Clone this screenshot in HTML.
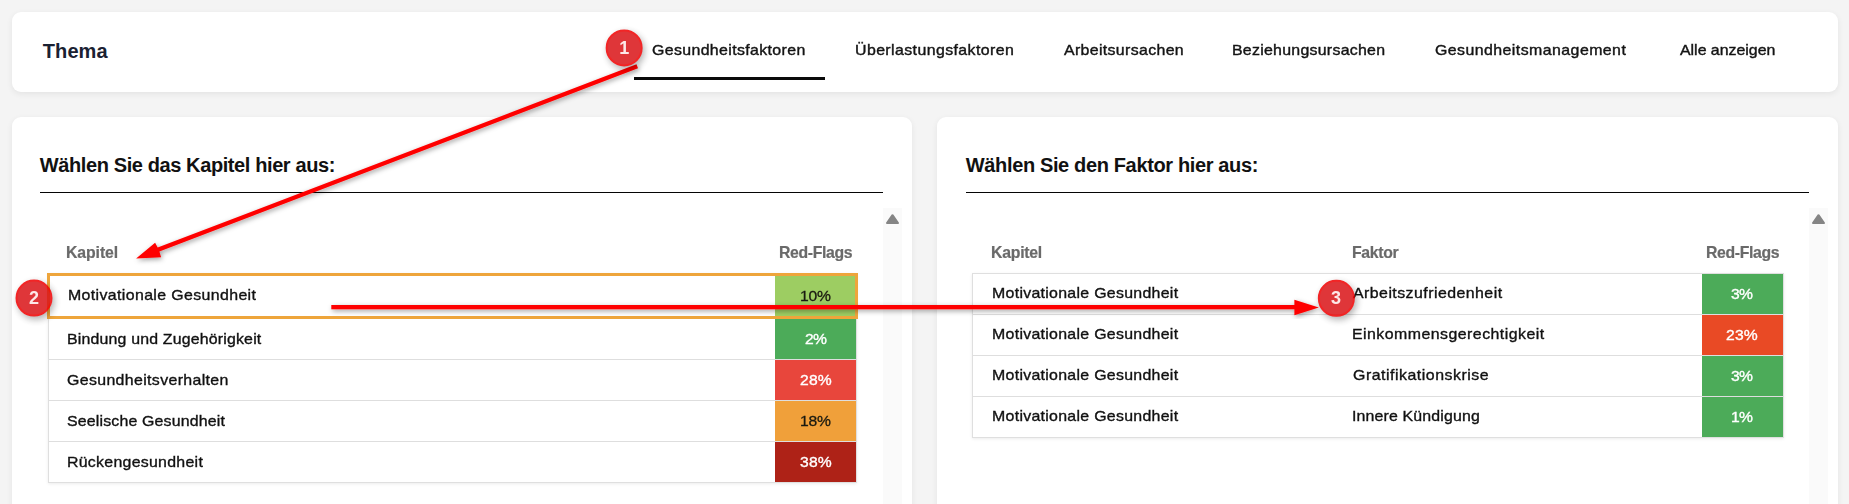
<!DOCTYPE html>
<html lang="de"><head><meta charset="utf-8"><title>Thema</title>
<style>
html,body{margin:0;padding:0}
body{width:1849px;height:504px;overflow:hidden;background:#f4f4f4;position:relative;font-family:"Liberation Sans", sans-serif}
.card{position:absolute;background:#fff;border-radius:9px;box-shadow:0 2px 6px rgba(0,0,0,.07)}
.t{position:absolute;white-space:nowrap;line-height:20px;display:inline-block;transform-origin:0 0}
.abs{position:absolute}
.hr{position:absolute;height:1px;background:#050505}
.trk{position:absolute;width:19px;background:#fafafa}
.tbl{position:absolute;border:1px solid #dfdfdf;box-sizing:border-box;background:#fff;box-shadow:0 1px 3px rgba(0,0,0,.08)}
.ln{position:absolute;height:1px;background:#dedede}
.cell{position:absolute}
.badge{position:absolute;width:37px;height:37px;border-radius:50%;box-sizing:border-box;background:#da1317;border:2px solid #f00001;opacity:.85;color:#fde4e4;font-weight:bold;font-size:18px;line-height:33px;text-align:center;box-shadow:2px 3px 7px rgba(0,0,0,.36)}
</style></head><body>
<div class="card" style="left:12px;top:12px;width:1826px;height:80px"></div>
<div class="card" style="left:12px;top:117px;width:900px;height:420px"></div>
<div class="card" style="left:937px;top:117px;width:901px;height:420px"></div>
<div class="abs" style="left:634px;top:77px;width:191px;height:3px;background:#0a0a0a"></div>
<div class="hr" style="left:40px;top:192px;width:843px"></div>
<div class="hr" style="left:966px;top:192px;width:843px"></div>
<div class="trk" style="left:883px;top:208px;height:296px"></div>
<div class="trk" style="left:1809px;top:208px;height:296px"></div>
<svg class="abs" style="left:885px;top:212.6px" width="15" height="13" viewBox="0 0 15 13"><path d="M7.5 2.2 L13 10 L2 10 Z" fill="#858585" stroke="#858585" stroke-width="2" stroke-linejoin="round"/></svg>
<svg class="abs" style="left:1811px;top:212.6px" width="15" height="13" viewBox="0 0 15 13"><path d="M7.5 2.2 L13 10 L2 10 Z" fill="#858585" stroke="#858585" stroke-width="2" stroke-linejoin="round"/></svg>

<!-- left table -->
<div class="tbl" style="left:48px;top:273px;width:809px;height:210px"></div>
<div class="ln" style="left:49px;top:359px;width:807px"></div>
<div class="ln" style="left:49px;top:400px;width:807px"></div>
<div class="ln" style="left:49px;top:441px;width:807px"></div>
<div class="cell" style="left:775px;top:276px;width:81px;height:40px;background:#9dcd62"></div>
<div class="cell" style="left:775px;top:319px;width:81px;height:40px;background:#4cab59"></div>
<div class="cell" style="left:775px;top:360px;width:81px;height:40px;background:#e8463c"></div>
<div class="cell" style="left:775px;top:401px;width:81px;height:40px;background:#f0a03a"></div>
<div class="cell" style="left:775px;top:442px;width:81px;height:40px;background:#ae2217"></div>
<div class="abs obox" style="left:47px;top:273px;width:811px;height:46px;box-sizing:border-box;border:3px solid #eea53b"></div>

<!-- right table -->
<div class="tbl" style="left:972px;top:273px;width:812px;height:165px"></div>
<div class="ln" style="left:973px;top:314px;width:810px"></div>
<div class="ln" style="left:973px;top:355px;width:810px"></div>
<div class="ln" style="left:973px;top:396px;width:810px"></div>
<div class="cell" style="left:1702px;top:274px;width:81px;height:40px;background:#4cab59"></div>
<div class="cell" style="left:1702px;top:315px;width:81px;height:40px;background:#e94a25"></div>
<div class="cell" style="left:1702px;top:356px;width:81px;height:40px;background:#4cab59"></div>
<div class="cell" style="left:1702px;top:397px;width:81px;height:40px;background:#4cab59"></div>

<span class="t" style="left:42.80px;top:41.00px;font-size:20px;font-weight:bold;color:#1a2132;letter-spacing:0.075px;">Thema</span>
<span class="t" style="left:651.80px;top:39.60px;font-size:15px;font-weight:normal;color:#141414;letter-spacing:0.342px;-webkit-text-stroke:0.4px currentColor;transform:scale(1.06,1);">Gesundheitsfaktoren</span>
<span class="t" style="left:855.00px;top:39.60px;font-size:15px;font-weight:normal;color:#141414;letter-spacing:0.379px;-webkit-text-stroke:0.4px currentColor;transform:scale(1.06,1);">Überlastungsfaktoren</span>
<span class="t" style="left:1063.80px;top:39.60px;font-size:15px;font-weight:normal;color:#141414;letter-spacing:0.321px;-webkit-text-stroke:0.4px currentColor;transform:scale(1.06,1);">Arbeitsursachen</span>
<span class="t" style="left:1232.00px;top:39.60px;font-size:15px;font-weight:normal;color:#141414;letter-spacing:0.250px;-webkit-text-stroke:0.4px currentColor;transform:scale(1.06,1);">Beziehungsursachen</span>
<span class="t" style="left:1434.80px;top:39.60px;font-size:15px;font-weight:normal;color:#141414;letter-spacing:0.412px;-webkit-text-stroke:0.4px currentColor;transform:scale(1.06,1);">Gesundheitsmanagement</span>
<span class="t" style="left:1679.80px;top:39.60px;font-size:15px;font-weight:normal;color:#141414;letter-spacing:-0.012px;-webkit-text-stroke:0.4px currentColor;transform:scale(1.06,1);">Alle anzeigen</span>
<span class="t" style="left:39.80px;top:155.00px;font-size:20px;font-weight:bold;color:#111;letter-spacing:-0.397px;">Wählen Sie das Kapitel hier aus:</span>
<span class="t" style="left:965.80px;top:155.00px;font-size:20px;font-weight:bold;color:#111;letter-spacing:-0.360px;">Wählen Sie den Faktor hier aus:</span>
<span class="t" style="left:66.00px;top:242.00px;font-size:15.5px;font-weight:bold;color:#6a6a6a;letter-spacing:-0.094px;-webkit-text-stroke:0.2px currentColor;transform:scale(1.02,1.05);">Kapitel</span>
<span class="t" style="left:779.00px;top:242.00px;font-size:15.5px;font-weight:bold;color:#6a6a6a;letter-spacing:-0.351px;-webkit-text-stroke:0.2px currentColor;transform:scale(1.02,1.05);">Red-Flags</span>
<span class="t" style="left:991.00px;top:242.00px;font-size:15.5px;font-weight:bold;color:#6a6a6a;letter-spacing:-0.241px;-webkit-text-stroke:0.2px currentColor;transform:scale(1.02,1.05);">Kapitel</span>
<span class="t" style="left:1352.00px;top:242.00px;font-size:15.5px;font-weight:bold;color:#6a6a6a;letter-spacing:-0.329px;-webkit-text-stroke:0.2px currentColor;transform:scale(1.02,1.05);">Faktor</span>
<span class="t" style="left:1706.00px;top:242.00px;font-size:15.5px;font-weight:bold;color:#6a6a6a;letter-spacing:-0.351px;-webkit-text-stroke:0.2px currentColor;transform:scale(1.02,1.05);">Red-Flags</span>
<span class="t" style="left:68.00px;top:285.00px;font-size:15px;font-weight:normal;color:#111;letter-spacing:0.348px;-webkit-text-stroke:0.35px currentColor;transform:scale(1.06,1);">Motivationale Gesundheit</span>
<span class="t" style="left:67.00px;top:328.50px;font-size:15px;font-weight:normal;color:#111;letter-spacing:0.165px;-webkit-text-stroke:0.35px currentColor;transform:scale(1.06,1);">Bindung und Zugehörigkeit</span>
<span class="t" style="left:66.80px;top:369.50px;font-size:15px;font-weight:normal;color:#111;letter-spacing:0.334px;-webkit-text-stroke:0.35px currentColor;transform:scale(1.06,1);">Gesundheitsverhalten</span>
<span class="t" style="left:66.80px;top:410.50px;font-size:15px;font-weight:normal;color:#111;letter-spacing:0.155px;-webkit-text-stroke:0.35px currentColor;transform:scale(1.06,1);">Seelische Gesundheit</span>
<span class="t" style="left:67.00px;top:451.50px;font-size:15px;font-weight:normal;color:#111;letter-spacing:0.257px;-webkit-text-stroke:0.35px currentColor;transform:scale(1.06,1);">Rückengesundheit</span>
<span class="t" style="left:992.00px;top:283.00px;font-size:15px;font-weight:normal;color:#111;letter-spacing:0.274px;-webkit-text-stroke:0.35px currentColor;transform:scale(1.06,1);">Motivationale Gesundheit</span>
<span class="t" style="left:1352.80px;top:283.00px;font-size:15px;font-weight:normal;color:#111;letter-spacing:0.423px;-webkit-text-stroke:0.35px currentColor;transform:scale(1.06,1);">Arbeitszufriedenheit</span>
<span class="t" style="left:992.00px;top:324.00px;font-size:15px;font-weight:normal;color:#111;letter-spacing:0.274px;-webkit-text-stroke:0.35px currentColor;transform:scale(1.06,1);">Motivationale Gesundheit</span>
<span class="t" style="left:1352.00px;top:324.00px;font-size:15px;font-weight:normal;color:#111;letter-spacing:0.432px;-webkit-text-stroke:0.35px currentColor;transform:scale(1.06,1);">Einkommensgerechtigkeit</span>
<span class="t" style="left:992.00px;top:365.00px;font-size:15px;font-weight:normal;color:#111;letter-spacing:0.274px;-webkit-text-stroke:0.35px currentColor;transform:scale(1.06,1);">Motivationale Gesundheit</span>
<span class="t" style="left:1352.80px;top:365.00px;font-size:15px;font-weight:normal;color:#111;letter-spacing:0.483px;-webkit-text-stroke:0.35px currentColor;transform:scale(1.06,1);">Gratifikationskrise</span>
<span class="t" style="left:992.00px;top:406.00px;font-size:15px;font-weight:normal;color:#111;letter-spacing:0.274px;-webkit-text-stroke:0.35px currentColor;transform:scale(1.06,1);">Motivationale Gesundheit</span>
<span class="t" style="left:1352.00px;top:406.00px;font-size:15px;font-weight:normal;color:#111;letter-spacing:0.143px;-webkit-text-stroke:0.35px currentColor;transform:scale(1.06,1);">Innere Kündigung</span>
<span class="t" style="left:800.00px;top:286.00px;font-size:14.5px;font-weight:normal;color:#1a1a10;letter-spacing:-0.217px;-webkit-text-stroke:0.3px currentColor;transform:scale(1.08,1);">10%</span>
<span class="t" style="left:804.80px;top:329.00px;font-size:14.5px;font-weight:normal;color:#fff;letter-spacing:-0.633px;-webkit-text-stroke:0.35px currentColor;transform:scale(1.08,1);">2%</span>
<span class="t" style="left:799.80px;top:370.00px;font-size:14.5px;font-weight:normal;color:#fff;letter-spacing:0.200px;-webkit-text-stroke:0.35px currentColor;transform:scale(1.08,1);">28%</span>
<span class="t" style="left:800.00px;top:411.00px;font-size:14.5px;font-weight:normal;color:#1a1a10;letter-spacing:-0.217px;-webkit-text-stroke:0.3px currentColor;transform:scale(1.08,1);">18%</span>
<span class="t" style="left:799.80px;top:452.00px;font-size:14.5px;font-weight:normal;color:#fff;letter-spacing:0.200px;-webkit-text-stroke:0.35px currentColor;transform:scale(1.08,1);">38%</span>
<span class="t" style="left:1730.80px;top:284.00px;font-size:14.5px;font-weight:normal;color:#fff;letter-spacing:-0.633px;-webkit-text-stroke:0.35px currentColor;transform:scale(1.08,1);">3%</span>
<span class="t" style="left:1725.80px;top:325.00px;font-size:14.5px;font-weight:normal;color:#fff;letter-spacing:0.200px;-webkit-text-stroke:0.35px currentColor;transform:scale(1.08,1);">23%</span>
<span class="t" style="left:1730.80px;top:366.00px;font-size:14.5px;font-weight:normal;color:#fff;letter-spacing:-0.633px;-webkit-text-stroke:0.35px currentColor;transform:scale(1.08,1);">3%</span>
<span class="t" style="left:1731.00px;top:407.00px;font-size:14.5px;font-weight:normal;color:#fff;letter-spacing:-0.633px;-webkit-text-stroke:0.35px currentColor;transform:scale(1.08,1);">1%</span>

<!-- annotations -->
<svg class="abs anno" style="left:0;top:0" width="1849" height="504" viewBox="0 0 1849 504">
<defs><filter id="sh" x="-5%" y="-20%" width="110%" height="140%"><feDropShadow dx="1.2" dy="1.8" stdDeviation="2.4" flood-color="#000" flood-opacity=".38"/></filter></defs>
<g filter="url(#sh)" fill="#fe0002" stroke="none">
<path d="M636.5 64.3 L638.0 68.2 L159.4 251.5 L161.1 257.3 L136.1 258.5 L155.1 242.7 L157.7 247.6 Z"/>
</g>
<g filter="url(#sh)" fill="#fe0002">
<rect x="331.3" y="305" width="964" height="4.3"/>
<path d="M1294.4 299.8 L1318.8 307.5 L1294.4 315.2 Z"/>
</g>
</svg>
<div class="badge" style="left:605px;top:29px;transform:translate(.65px,.4px);line-height:35px">1</div>
<div class="badge" style="left:15px;top:279px;transform:translate(.5px,.6px)">2</div>
<div class="badge" style="left:1317px;top:279px;width:36.5px;height:36.5px;line-height:32.5px;transform:translate(.85px,.8px)">3</div>
</body></html>
